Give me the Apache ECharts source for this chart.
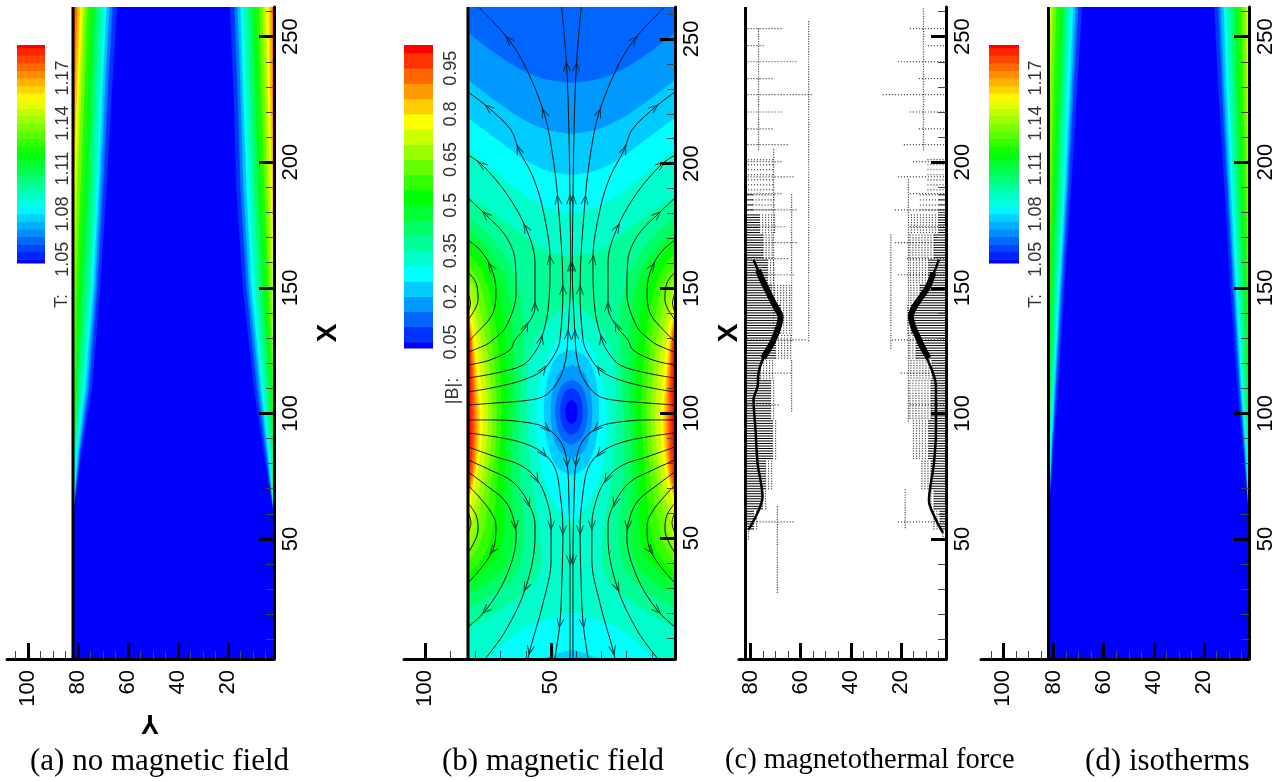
<!DOCTYPE html>
<html><head><meta charset="utf-8">
<style>html,body{margin:0;background:#fff}#c{width:1285px;height:782px}</style>
<script src="https://cdn.jsdelivr.net/npm/echarts@6/dist/echarts.min.js"></script>
</head><body><div id="c"></div>
<script>
// ---------- tick labels / axis values ----------
const ticksX=[50,100,150,200,250];
const minorX=[10,20,30,40,60,70,80,90,110,120,130,140,160,170,180,190,210,220,230,240,260];
const ticksY=[20,40,60,80,100];
const minorY=[5,10,15,25,30,35,45,50,55,65,70,75,85,90,95,105];
const ticksYc=[20,40,60,80];
const minorYc=[5,10,15,25,30,35,45,50,55,65,70,75];
const ticksYb=[50,100];
const minorYb=[10,20,30,40,60,70,80,90];
// ---------- colour bar levels ----------
const levelsT=[1.05,1.055,1.06,1.065,1.07,1.075,1.08,1.085,1.09,1.095,1.1,1.105,1.11,1.115,1.12,1.125,1.13,1.135,1.14,1.145,1.15,1.155,1.16,1.165,1.17,1.175,1.18,1.185,1.19];
const labelsT=[1.05,1.08,1.11,1.14,1.17];
const levelsB=[0.05,0.1,0.15,0.2,0.25,0.3,0.35,0.4,0.45,0.5,0.55,0.6,0.65,0.7,0.75,0.8,0.85,0.9,0.95,1];
const labelsB=[0.05,0.2,0.35,0.5,0.65,0.8,0.95];
// ---------- temperature isotherms: distance from the wall (Y units) at each X station ----------
const stationsX=[262,230,190,150,110,85,60];
const isoT=[1.05,1.06,1.07,1.08,1.09,1.1,1.11,1.12,1.13,1.14,1.15,1.16,1.17,1.18];
const aLeft=[[17.6,15.6,13.4,10.8,7.6,3.4,0],[15.8,14,12,9.6,6.4,2.8,0],[14.6,12.8,11,8.8,5.6,2.4,0],[13.4,11.8,10.2,8,4.8,1.8,0],[12.2,10.6,9.2,7,3.8,1.2,0],[10.6,9,7.8,5.6,2.6,.6,0],[9,7.6,6.2,4,1.6,.2,0],[7.2,6,4.4,2.4,.6,0,0],[5.8,4.6,3,1.2,0,0,0],[4.6,3.4,1.6,.4,0,0,0],[3.8,2.4,.8,0,0,0,0],[2.8,1.6,.2,0,0,0,0],[1.8,.8,0,0,0,0,0],[.8,0,0,0,0,0,0]];
const aRight=[[17.6,16.2,15,12.4,8,4.2,0],[15.8,14.6,13.4,11,6.8,3.4,0],[14.6,13.4,12.2,10,5.8,2.8,0],[13.4,12.4,11,9,5,2.4,0],[12,11,9.6,7.6,4.2,1.6,0],[10.4,9.4,8,6,3,1,0],[8.8,7.8,6.6,4.6,1.8,.4,0],[7.2,6.2,5.2,3.2,.8,0,0],[5.8,5,3.8,2,.2,0,0],[4.4,3.8,2.4,1,0,0,0],[3.2,2.6,1.4,.4,0,0,0],[2,1.6,.8,0,0,0,0],[1,.8,.2,0,0,0,0],[.4,0,0,0,0,0,0]];
const dLeft=[[13.4,11.4,9,6.2,3.8,1.9,0],[11.8,10,7.8,5.4,3,1.4,0],[10.8,9.2,7.2,4.8,2.6,1.2,0],[9.8,8.4,6.6,4.4,2.2,1,0],[8.6,7.2,5.6,3.6,1.6,.6,0],[7.2,6,4.4,2.6,1,.2,0],[6,4.8,3.2,1.6,.6,0,0],[4.6,3.4,2,.8,.2,0,0],[3,2,1,.2,0,0,0],[1.6,.8,.2,0,0,0,0],[.8,.2,0,0,0,0,0]];
const dRight=[[13.8,12.2,9.8,7.4,4.6,2.3,0],[12.2,10.8,8.6,6.4,3.8,1.8,0],[11.2,10,8,5.8,3.4,1.6,0],[10,9,7.2,5.2,3,1.2,0],[8.8,7.8,6.2,4.2,2.2,.8,0],[7.4,6.4,5,3,1.4,.4,0],[5.8,5,3.6,2,.8,.2,0],[4.4,3.6,2.4,1,.2,0,0],[3,2.2,1.2,.4,0,0,0],[1.6,1,.4,0,0,0,0],[.8,.4,0,0,0,0,0]];
// ---------- |B| contours, left half: [distance from wall, X] ----------
const topD=[0,10.3,20.6,30.2,40.5];
const topE3=[252.4,244.4,237.6,233.6,232.4];
const topE4=[233.6,225.5,218.3,213.5,211.9];
const topE5=[218.3,210.7,202.7,197.1,195.5];
const topE6=[205.5,197.5,188.7,182.3,180.3];
const topE7=[186.7,180.3,172.2,164.6,162.6];
const lowE5=[[0,1.5],[29.8,1.5],[35.7,3.9],[40.5,5.1]];
const lowE6=[[0,1.5],[7.9,1.5],[17.9,11.1],[23.8,14.7],[31,17.5],[40.5,19.9]];
const lowE7=[[0,13.9],[11.1,20.3],[23,28],[29.8,37.2],[27.8,57.2],[24.6,77.3],[23,100.5],[23.8,125.4],[31.8,137.4],[40.5,145.4]];
const lobes=[
[[0,179.5],[7.9,171.4],[15.9,162.2],[21.4,147.4],[22.2,129.4],[20.2,100.5],[19.9,77.3],[23,50],[19.9,35.2],[9.9,27.2],[0,21.9]],
[[0,174.2],[7.9,165.4],[13.9,156.6],[16.7,147.4],[18.3,129.4],[17.9,100.5],[16.7,77.3],[18.7,50],[15.1,37.2],[7.1,31.2],[0,27.6]],
[[0,169.4],[6.4,162.2],[11.1,154.2],[12.7,145.4],[15.1,129.4],[15.9,100.5],[14.3,77.3],[14.3,50],[11.1,41.2],[4.8,35.2],[0,32.4]],
[[0,164.6],[4.8,158.2],[7.9,151.4],[9.5,143.4],[11.9,129.4],[13.7,100.5],[11.9,77.3],[10.3,57.2],[8.7,47.2],[4,39.2],[0,36.4]],
[[0,159.4],[3.2,155.4],[5.6,149.4],[7.1,141.4],[9.9,127.4],[11.7,100.5],[10.3,79.3],[7.9,63.2],[6,51.2],[2.8,44],[0,40.4]],
[[0,154.2],[2,151.4],[3.6,147.4],[5.2,139.4],[7.9,125.4],[9.9,100.5],[8.7,81.3],[6,67.2],[4,57.2],[2,49.2],[0,44.4]],
[[0,150.6],[1.2,147.4],[2.4,141.4],[5.6,127.4],[8.3,100.5],[7.1,83.3],[4.4,69.2],[2.4,61.2],[1.2,53.2],[0,48]],
[[0,145.4],[1.2,140.6],[3.6,129.4],[6.2,100.5],[5.4,85.3],[3.2,73.2],[1.2,65.2],[.4,57.2],[0,51.2]],
[[0,141.4],[2,131.4],[4.8,100.5],[4.2,85.3],[2.4,73.2],[.6,66.4],[0,65.2]],
[[0,138.6],[1.6,131.4],[3.8,100.5],[3.4,85.3],[2,73.2],[0,67.2]],
[[0,136.6],[1.4,130.2],[3,100.5],[2.7,85.3],[1.5,73.2],[0,68.8]],
[[0,134.6],[1.2,127.4],[2,100.5],[1.9,85.3],[1,75],[0,70.4]],
[[0,131],[.8,122],[1,100.5],[.9,85.3],[0,72]]
];
// low-field ovals round the minimum: [half width, X], colour index, painted outermost first
const holes=[
{band:5,p:[[0,134.2],[4.8,131],[9.5,124],[12.7,113],[14.3,99.3],[13.5,85.3],[11.1,73.2],[6.4,62.5],[0,56.4]]},
{band:4,p:[[0,125.4],[5.5,123.6],[8.5,118],[10.4,109],[11.1,100.5],[10.4,92],[8.5,83.5],[5.5,77.5],[0,75.2]]},
{band:3,p:[[0,119.3],[4.4,117.6],[6.8,112],[8,106],[8.3,100.5],[8,95],[6.8,89],[4.4,83.6],[0,82.1]]},
{band:2,p:[[0,113.3],[3.4,112],[5.2,108.5],[6.2,104],[6.4,100.5],[6.2,97],[5.2,92.5],[3.4,89],[0,87.3]]},
{band:1,p:[[0,110.1],[2.4,109],[3.6,106.5],[4.3,103],[4.4,100.5],[4.3,98],[3.6,95],[2.4,92.5],[0,91.3]]},
{band:0,p:[[0,105.3],[1.4,104.6],[2.2,102.8],[2.4,100.5],[2.2,98.2],[1.4,96.4],[0,95.7]]}
];
// ---------- streamlines, left half: [distance from wall, X] ----------
const upperLines=[
[[37.2,262.8],[39.2,238.8],[40.1,212.3],[40.5,185.5],[40.8,158.6],[39.7,131.4],[38.9,122.1],[36.5,114.1],[31,107.3],[24.6,105.3],[11.1,104.1],[0,103.3]],
[[4.4,262.5],[16.3,249.6],[23.4,237.6],[30.2,220.3],[33.3,205.5],[35.7,185.5],[37.7,149.4],[36.5,129.4],[34.9,124.5],[29.8,117.3],[21.8,113.3],[11.1,110.5],[0,108.5]],
[[0,228.8],[8.3,222.3],[17.1,213.5],[20.2,205.5],[25.8,194.7],[29.8,181.5],[32.6,161.4],[31.8,141.4],[29,129.4],[26.6,124.5],[21.8,119.3],[11.1,116.1],[0,114.1]],
[[0,203.5],[5.6,199.5],[15.1,188.3],[23,174.2],[26.6,160.2],[26.6,142.6],[23,134.6],[18.7,129.4],[16.7,125.4],[8.7,121.3],[0,119.3]],
[[0,186.3],[7.1,179.5],[14.7,171.4],[18.7,161.4],[19.1,148.2],[15.1,134.6],[9.9,129.4],[7.1,127.4],[0,124.5]],
[[0,169.4],[4.8,165.4],[9.1,158.6],[11.1,149.4],[9.9,140.2],[2,130.6],[0,128.6]],
[[0,156.6],[3.2,152.2],[4,145.4],[0,137.4]],
[[0,148.2],[1,144.2],[0,140.2]]
];
const lowerLines=[
[[0,97.3],[11.1,97.3],[24.6,96.1],[31,94.1],[36.9,88.5],[39.3,80.5],[40.1,64.4],[40.5,41.2],[40.5,1.5]],
[[0,92.1],[11.1,90.5],[21.8,88.1],[29.8,84.1],[34.5,78.1],[36.5,68.4],[37.7,53.2],[37.3,33.2],[36.5,15.9],[34.5,1.9]],
[[0,86.5],[11.1,82.5],[20.6,79.3],[27,74],[31,66],[33,55.2],[33,41.2],[29.8,23.9],[24.6,5.1],[23.8,1.5]],
[[0,81.3],[8.7,77.3],[17.9,72.4],[23.8,64.4],[26.6,55.2],[26.6,50.4],[23,30.4],[15.1,13.1],[7.1,1.9]],
[[0,76.5],[7.1,71.2],[15.1,64.4],[18.7,55.2],[19.1,50.4],[15.1,34.4],[7.1,21.1],[0,14.3]],
[[0,71.2],[4.8,66],[9.1,60.4],[11.1,55.2],[9.9,45.2],[0,32]],
[[0,64],[3.2,59.2],[4,53.2],[0,44]],
[[0,60.4],[1.2,56],[0,52]]
];
// arrow positions: [line index, vertex index]
const upperArrows=[[0,1],[0,3],[0,4],[0,5],[1,1],[1,3],[1,5],[1,6],[1,9],[2,1],[2,3],[2,6],[2,8],[3,1],[3,3],[3,5],[3,6],[4,1],[5,2]];
const lowerArrows=[[0,3],[1,3],[2,3],[0,5],[3,3],[4,3],[1,6],[5,4],[2,5],[3,6],[0,7],[4,6],[1,8],[2,8]];
// ---------- magnetothermal force marks (wall distance in Y units) ----------
// blocks: [X top, X bottom, row stride, stripe L, stipple L, stripe R, stipple R]
const forceBlocks=[[201,187,2,0,11,0,8],[187,179,2,3,12,3,11],[179,171,1,5.6,12,3,14],[171,161,1,7,11,4.8,15],[161,151,1,8.8,12,7,15],[151,143,1,10.4,18,10.4,15],[143,131,1,14,18,14,16],[131,121,1,12,18,12,15],[121,113,1,6,11,5.6,15],[113,97,1,10,12,6,15],[97,81.5,1,10.8,12,7,14],[81.5,69.5,1,8,11,6,10],[69.5,61.5,1,6.8,9,4.8,7],[61.5,53.6,1,3.2,5,2.4,5],[53.6,49.6,1,0,2,0,1.2]];
// sparse rows: [X, reach from left wall, reach from right wall]
const forceRows=[[253.2,15.2,15.2],[246.4,7.2,8],[240,20.8,20],[233.3,11.2,11.2],[226.9,26.8,26],[220,15.2,15.2],[213.3,11.2,11.2],[207,17.2,17.6],[200.2,14.8,14],[194.2,19.2,19.2],[187.5,15.2,15.2],[181,21.2,21.2],[174.3,16,15],[168,21.2,21.2],[161.6,16.8,16],[155.2,20,20],[129.3,24,22],[116,18,18],[103.4,14,14.8],[56.8,19.2,19.2]];
// sparse columns: [wall distance, X top, X bottom]
const forceColsL=[[25.2,256,129],[18.4,187,129],[18.4,121,101],[11.2,205,129],[5.2,253,205],[12.7,62.7,28.5]];
const forceColsR=[[9,261,205],[22,171,126],[15,193,97],[16.3,69.5,53.6]];
// ridge of the strongest force
const ridgeL=[[3.2,161.2],[7.2,152],[12,142.4],[14,138.4],[11.2,129.3],[6.8,121.3],[5.2,116.1],[4.8,110.6],[3.2,105.4],[4,93.4],[4.8,80.3],[6.8,66.7],[4.8,60.4],[1.2,53.6]];
const ridgeR=[[2.8,161.2],[7.2,150.4],[14,138.4],[10.8,129.3],[5.2,116.1],[4,110.6],[4,93.4],[4.8,80.3],[6.8,65.2],[4,57.6],[1.2,52.4]];
const ridgeCoreL=[[5,157],[7.2,152],[12,142.4],[14,138.4],[11.2,129.3],[7,122]];
const ridgeCoreR=[[5,156],[7.2,150.4],[14,138.4],[10.8,129.3],[7,122]];
// captions: [text, left edge, font size]
const captions=[['(a) no magnetic field',30,31],['(b) magnetic field',442,31],['(c) magnetothermal force',725,28.5],['(d) isotherms',1085,31]];

// ---------- helpers ----------
function rainbow(t){
  t=Math.max(0,Math.min(1,t));let r,g,b;
  if(t<.25){r=0;g=4*t;b=1}else if(t<.5){r=0;g=1;b=1-4*(t-.25)}
  else if(t<.75){r=4*(t-.5);g=1;b=0}else{r=1;g=1-4*(t-.75);b=0}
  return 'rgb('+[r,g,b].map(v=>Math.round(v*255)).join(',')+')';
}
function chaikin(p,n){
  for(let k=0;k<(n||2);k++){
    const q=[p[0]];
    for(let i=0;i<p.length-1;i++){
      const a=p[i],b=p[i+1];
      q.push([.75*a[0]+.25*b[0],.75*a[1]+.25*b[1]],[.25*a[0]+.75*b[0],.25*a[1]+.75*b[1]]);
    }
    q.push(p[p.length-1]);p=q;
  }
  return p;
}
const SANS='"Liberation Sans",Arial,sans-serif';
const grids=[],xAxes=[],yAxes=[],series=[],graphics=[];
function addGrid(g){grids.push(g);return grids.length-1}
function polySeries(gi,xi,yi,polys,z){
  series.push({type:'custom',xAxisIndex:xi,yAxisIndex:yi,coordinateSystem:'cartesian2d',silent:true,animation:false,clip:true,z:z||2,
    data:polys.map((p,i)=>[p.pts[0][0],p.pts[0][1],i]),
    renderItem:(params,api)=>{
      const p=polys[api.value(2)];
      return {type:'polygon',shape:{points:p.pts.map(q=>api.coord(q))},style:{fill:p.color,stroke:p.color,lineWidth:.3}};
    }});
}
function panel(o){
  const gi=addGrid({left:o.left,top:7,width:o.right-o.left,height:652});
  const x0=xAxes.length,y0=yAxes.length;
  const base={gridIndex:gi,type:'value',splitLine:{show:false},z:6};
  xAxes.push({...base,position:'bottom',inverse:true,min:o.ymin,max:o.ymax,
    axisLine:{onZero:false,lineStyle:{color:'#000',width:3}},
    axisTick:{inside:true,length:16,lineStyle:{color:'#000',width:3},customValues:o.ticksY},
    axisLabel:{rotate:90,margin:11,fontSize:22,color:'#000',fontFamily:SANS,customValues:o.ticksY,hideOverlap:false}});
  xAxes.push({...base,position:'bottom',inverse:true,min:o.ymin,max:o.ymax,
    axisLine:{show:false},axisLabel:{show:false},
    axisTick:{inside:true,length:8,lineStyle:{color:'#444',width:1},customValues:o.minorY}});
  yAxes.push({...base,position:'right',min:o.xmin,max:o.xmax,
    axisLine:{onZero:false,lineStyle:{color:'#000',width:3}},
    axisTick:{inside:true,length:15,lineStyle:{color:'#000',width:3},customValues:ticksX},
    axisLabel:{rotate:90,margin:6,fontSize:22,color:'#000',fontFamily:SANS,customValues:ticksX},
    name:o.xName||'',nameLocation:'middle',nameRotate:90,nameGap:40,
    nameTextStyle:{fontSize:28,fontWeight:'bold',color:'#000',fontFamily:SANS}});
  yAxes.push({...base,position:'right',min:o.xmin,max:o.xmax,
    axisLine:{show:false},axisLabel:{show:false},
    axisTick:{inside:true,length:8,lineStyle:{color:'#444',width:1},customValues:minorX}});
  if(o.wall!==undefined) series.push({type:'line',xAxisIndex:x0,yAxisIndex:y0,silent:true,animation:false,symbol:'none',z:7,
    lineStyle:{color:'#000',width:3},data:[[o.wall,o.xmin],[o.wall,o.xmax]]});
  return {gi,x0,y0};
}
function colorBar(o){
  const gi=addGrid({left:o.left,top:45,width:o.width,height:o.height});
  const xi=xAxes.length,yi=yAxes.length;
  xAxes.push({gridIndex:gi,type:'value',min:0,max:1,show:false});
  yAxes.push({gridIndex:gi,type:'value',position:'right',min:o.min,max:o.max,splitLine:{show:false},
    axisLine:{show:false},axisTick:{show:false},
    axisLabel:{rotate:90,margin:o.margin,fontSize:18,color:'#333',fontFamily:SANS,customValues:o.labels,formatter:o.fmt}});
  const edges=[o.min,...o.levels,o.max],n=edges.length-2;
  const bands=edges.slice(0,-1).map((e,i)=>[0,e,1,edges[i+1],i]);
  series.push({type:'custom',xAxisIndex:xi,yAxisIndex:yi,silent:true,animation:false,data:bands,
    encode:{x:[0,2],y:[1,3]},
    renderItem:(p,api)=>{
      const a=api.coord([0,api.value(3)]),b=api.coord([1,api.value(1)]);
      return {type:'rect',shape:{x:a[0],y:a[1],width:b[0]-a[0],height:b[1]-a[1]+.5},style:{fill:rainbow(api.value(4)/n)}};
    }});
}
function rotText(text,x,y,opt){
  graphics.push({type:'text',x,y,rotation:(opt&&opt.rot)||Math.PI/2,silent:true,z:20,
    style:{text,fill:(opt&&opt.fill)||'#333',font:(opt&&opt.font)||('18px '+SANS),textAlign:'center',textVerticalAlign:'middle'}});
}
function isoField(table,wall,sign){
  return table.map((row,i)=>{
    const T=isoT[i],band=(T+.005-1.05)/.005+.5;
    const pts=[[wall,stationsX[0]]];
    row.forEach((d,j)=>pts.push([wall+sign*d,stationsX[j]]));
    pts.push([wall,stationsX[stationsX.length-1]]);
    return {pts,color:rainbow(band/29)};
  });
}
function tempPanel(o,left,right){
  const p=panel(o);
  const wl=o.wall,wr=o.ymin;
  const polys=[{pts:[[wl,o.xmin],[wl,o.xmax],[wr,o.xmax],[wr,o.xmin]],color:'#0000ff'}];
  const L=isoField(left,wl,-1),R=isoField(right,wr,1);
  L.forEach((q,i)=>{polys.push(q);if(R[i])polys.push(R[i])});
  polySeries(p.gi,p.x0,p.y0,polys);
  return p;
}

// ---------- panel (a) ----------
tempPanel({left:7,right:274,ymin:1.6,ymax:108.4,xmin:2.2,xmax:261.8,wall:82,ticksY,minorY,xName:'X'},aLeft,aRight);
colorBar({left:17,width:28,height:218,min:1.0475,max:1.1919,levels:levelsT,labels:labelsT,margin:9,fmt:v=>v.toFixed(2)});
rotText('T:',62,301);
graphics.push({type:'text',x:150,y:722,rotation:Math.PI,silent:true,z:20,style:{text:'Y',fill:'#000',font:'bold 27px '+SANS,textAlign:'center',textVerticalAlign:'middle'}});

// ---------- panel (b) ----------
const WL=83,WR=.8,YC=(WL+WR)/2;
const pb=panel({left:404,right:675,ymin:WR,ymax:108.4,xmin:1.5,xmax:262.8,wall:WL,ticksY:ticksYb,minorY:minorYb,xName:'X'});
(function(){
  const polys=[{pts:[[WL,1.5],[WL,262.8],[WR,262.8],[WR,1.5]],color:rainbow(2/20)}];
  const tops=[topE3,topE4,topE5,topE6,topE7],lows=[[[0,1.5]],[[0,1.5]],lowE5,lowE6,lowE7];
  tops.forEach((t,k)=>{
    const cur=chaikin(t.map((x,i)=>[topD[i],x]));
    const low=chaikin(lows[k]);
    const pts=[];
    cur.forEach(q=>pts.push([WL-q[0],q[1]]));
    cur.slice().reverse().forEach(q=>pts.push([WR+q[0],q[1]]));
    low.forEach(q=>pts.push([WR+q[0],q[1]]));
    low.slice().reverse().forEach(q=>pts.push([WL-q[0],q[1]]));
    polys.push({pts,color:rainbow((k+3)/20)});
  });
  lobes.forEach((l,k)=>{
    const c=chaikin(l).map(q=>q);
    polys.push({pts:c.map(q=>[WL-q[0],q[1]]),color:rainbow((k+8)/20)});
    polys.push({pts:c.map(q=>[WR+q[0],q[1]]),color:rainbow((k+8)/20)});
  });
  holes.forEach(h=>{
    const c=chaikin(h.p);
    const pts=c.map(q=>[YC-q[0],q[1]]);
    c.slice().reverse().forEach(q=>pts.push([YC+q[0],q[1]]));
    polys.push({pts,color:rainbow(h.band/20)});
  });
  polySeries(pb.gi,pb.x0,pb.y0,polys);
  const addLine=(line,side)=>{
    series.push({type:'line',xAxisIndex:pb.x0,yAxisIndex:pb.y0,silent:true,animation:false,symbol:'none',smooth:.35,z:4,
      lineStyle:{color:'#0a1410',width:1},
      data:line.map(q=>[side<0?WL-q[0]:WR+q[0],q[1]])});
  };
  upperLines.concat(lowerLines).forEach(l=>{addLine(l,-1);addLine(l,1)});
  const arrows=[];
  const addArrow=(line,v,step)=>{
    const a=line[v],b=line[v+step];
    [-1,1].forEach(side=>{
      const vx=(b[0]-a[0])*(side<0?1:-1),vy=b[1]-a[1];
      const rot=Math.atan2(vy,vx)*180/Math.PI-90;
      arrows.push([side<0?WL-a[0]:WR+a[0],a[1],rot]);
    });
  };
  upperArrows.forEach(q=>addArrow(upperLines[q[0]],q[1],-1));
  lowerArrows.forEach(q=>addArrow(lowerLines[q[0]],q[1],1));
  series.push({type:'scatter',xAxisIndex:pb.x0,yAxisIndex:pb.y0,silent:true,animation:false,z:5,
    symbol:'path://M-3,4 L0,-4 L3,4',symbolSize:[7,9],symbolRotate:v=>v[2],
    itemStyle:{color:'transparent',borderColor:'#0a1410',borderWidth:1},data:arrows});
})();
colorBar({left:404,width:29,height:303,min:.0303,max:1.0265,levels:levelsB,labels:labelsB,margin:9,fmt:v=>String(v)});
rotText('|B|:',453,391);

// ---------- panel (c) ----------
const CL=82,CR=2;
const pc=panel({left:739,right:946,ymin:CR,ymax:84.6,xmin:2.2,xmax:261.8,wall:CL,ticksY:ticksYc,minorY:minorYc});
(function(){
  const dots=[],stripes=[];
  const STEP=1.2;
  forceBlocks.forEach(b=>{
    for(let X=Math.floor(b[0]);X>b[1];X-=b[2]){
      if(b[3]>0){stripes.push([CL,X,CL-b[3],X]);}
      if(b[5]>0){stripes.push([CR,X,CR+b[5],X]);}
      for(let d=b[3];d<=b[4];d+=STEP)dots.push([CL-d,X]);
      for(let d=b[5];d<=b[6];d+=STEP)dots.push([CR+d,X]);
    }
  });
  forceRows.forEach(r=>{
    for(let d=1;d<=r[1];d+=STEP)dots.push([CL-d,r[0]]);
    for(let d=1;d<=r[2];d+=STEP)dots.push([CR+d,r[0]]);
  });
  forceColsL.forEach(c=>{for(let X=c[1];X>=c[2];X-=1)dots.push([CL-c[0],X])});
  forceColsR.forEach(c=>{for(let X=c[1];X>=c[2];X-=1)dots.push([CR+c[0],X])});
  series.push({type:'scatter',xAxisIndex:pc.x0,yAxisIndex:pc.y0,silent:true,animation:false,z:3,symbol:'rect',symbolSize:1.2,
    itemStyle:{color:'#222'},data:dots});
  series.push({type:'custom',xAxisIndex:pc.x0,yAxisIndex:pc.y0,silent:true,animation:false,z:3,data:stripes,
    encode:{x:[0,2],y:[1,3]},
    renderItem:(p,api)=>{
      const a=api.coord([api.value(0),api.value(1)]),b=api.coord([api.value(2),api.value(3)]);
      return {type:'line',shape:{x1:a[0],y1:a[1],x2:b[0],y2:b[1]},style:{stroke:'#000',lineWidth:1}};
    }});
  const ridge=(pts,side,w)=>series.push({type:'line',xAxisIndex:pc.x0,yAxisIndex:pc.y0,silent:true,animation:false,symbol:'none',smooth:.3,z:4,
    lineStyle:{color:'#000',width:w},data:pts.map(q=>[side<0?CL-q[0]:CR+q[0],q[1]])});
  ridge(ridgeL,-1,2.5);ridge(ridgeR,1,2.5);ridge(ridgeCoreL,-1,6);ridge(ridgeCoreR,1,6);
})();

// ---------- panel (d) ----------
tempPanel({left:981,right:1249,ymin:2.1,ymax:108.9,xmin:2.2,xmax:261.8,wall:82,ticksY,minorY},dLeft,dRight);
colorBar({left:989,width:30,height:218,min:1.0475,max:1.1919,levels:levelsT,labels:labelsT,margin:8,fmt:v=>v.toFixed(2)});
rotText('T:',1036,301);

const chart=echarts.init(document.getElementById('c'),null,{renderer:'canvas'});
chart.setOption({
  animation:false,backgroundColor:'#fff',
  title:captions.map(c=>({text:c[0],left:c[1],top:746,padding:0,
    textStyle:{fontFamily:'"Liberation Serif","Times New Roman",serif',fontSize:c[2],fontWeight:'normal',color:'#000'}})),
  grid:grids,xAxis:xAxes,yAxis:yAxes,series,graphic:graphics
});
</script></body></html>
